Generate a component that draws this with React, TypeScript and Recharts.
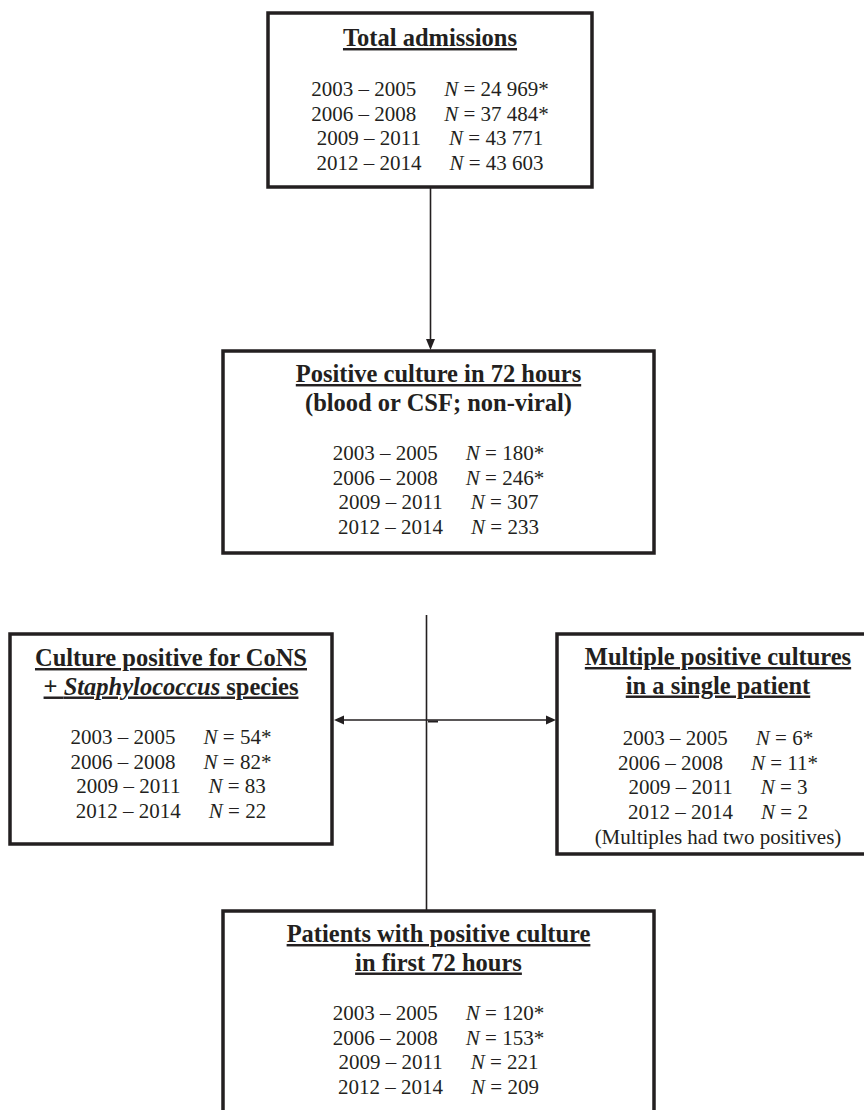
import React from 'react';
import { ScatterChart, Scatter, XAxis, YAxis, ReferenceArea, ReferenceLine } from 'recharts';

// ---------- data ----------
const periods = ['2003 – 2005', '2006 – 2008', '2009 – 2011', '2012 – 2014'];
const totalAdmissions = ['24 969*', '37 484*', '43 771', '43 603'];
const positiveCultures = ['180*', '246*', '307', '233'];
const consCultures = ['54*', '82*', '83', '22'];
const multipleCultures = ['6*', '11*', '3', '2'];
const patientsPositive = ['120*', '153*', '221', '209'];

const titleTotal = [[{ t: 'Total admissions' }]];
const titlePositive = [[{ t: 'Positive culture in 72 hours' }]];
const subPositive = '(blood or CSF; non-viral)';
const titleCons = [[{ t: 'Culture positive for CoNS' }], [{ t: '+ ' }, { t: 'Staphylococcus', i: true }, { t: ' species' }]];
const titleMultiple = [[{ t: 'Multiple positive cultures' }], [{ t: 'in a single patient' }]];
const noteMultiple = '(Multiples had two positives)';
const titlePatients = [[{ t: 'Patients with positive culture' }], [{ t: 'in first 72 hours' }]];

// ---------- layout ----------
const W = 864;
const H = 1110;
const INK = '#231f20';
const FONT = '"Liberation Serif", "Times New Roman", serif';
const ROW_STEP = 24.5;
const TITLE_STEP = 28.5;

const boxes = [
  { x1: 268, y1: 13, x2: 592, y2: 187, cx: 430, titleY: 46, rowsY: 96, title: titleTotal, values: totalAdmissions },
  { x1: 223, y1: 351, x2: 654, y2: 553, cx: 438.5, titleY: 382, rowsY: 460, title: titlePositive, sub: subPositive, values: positiveCultures },
  { x1: 10, y1: 634, x2: 332, y2: 844, cx: 171, titleY: 666, rowsY: 744, title: titleCons, values: consCultures },
  { x1: 557, y1: 634, x2: 879, y2: 854, cx: 718, titleY: 665, rowsY: 745, title: titleMultiple, values: multipleCultures, note: noteMultiple },
  { x1: 223, y1: 911, x2: 654, y2: 1113, cx: 438.5, titleY: 942, rowsY: 1020, title: titlePatients, values: patientsPositive },
];

const connectors = [
  [{ x: 430.5, y: 188 }, { x: 430.5, y: 342 }],
  [{ x: 426.5, y: 615 }, { x: 426.5, y: 910 }],
  [{ x: 342, y: 720 }, { x: 549, y: 720 }],
];
const tick = [{ x: 428, y: 721.5 }, { x: 438, y: 721.5 }];

const arrows = [
  { x: 430.5, y: 350, dir: 'down' },
  { x: 334, y: 720, dir: 'left' },
  { x: 556, y: 720, dir: 'right' },
];

// ---------- text points ----------
type Seg = { t: string; i?: boolean };
const textPoints: any[] = [];
boxes.forEach((b) => {
  let y = b.titleY;
  b.title.forEach((segs: Seg[]) => {
    textPoints.push({ x: b.cx, y, kind: 'title', segs });
    y += TITLE_STEP;
  });
  if (b.sub) {
    textPoints.push({ x: b.cx, y, kind: 'sub', text: b.sub });
  }
  b.values.forEach((v, i) => {
    textPoints.push({ x: b.cx, y: b.rowsY + i * ROW_STEP, kind: 'row', period: periods[i], value: v });
  });
  if (b.note) {
    textPoints.push({ x: b.cx, y: b.rowsY + b.values.length * ROW_STEP + 1, kind: 'note', text: b.note });
  }
});

const TextShape = (props: any) => {
  const { cx, cy, payload } = props;
  const common = {
    x: cx,
    y: cy,
    textAnchor: 'middle' as const,
    fontFamily: FONT,
    fill: INK,
    style: { whiteSpace: 'pre' as const },
  };
  if (payload.kind === 'title') {
    return (
      <text {...common} fontSize={24.5} fontWeight="bold" textDecoration="underline">
        {payload.segs.map((s: Seg, k: number) => (
          <tspan key={k} fontStyle={s.i ? 'italic' : 'normal'}>{s.t}</tspan>
        ))}
      </text>
    );
  }
  if (payload.kind === 'sub') {
    return (
      <text {...common} fontSize={24.5} fontWeight="bold">
        {payload.text}
      </text>
    );
  }
  if (payload.kind === 'note') {
    return (
      <text {...common} fontSize={21}>
        {payload.text}
      </text>
    );
  }
  return (
    <text {...common} fontSize={21}>
      <tspan>{payload.period}</tspan>
      <tspan dx={28} fontStyle="italic">N</tspan>
      <tspan>{' = ' + payload.value}</tspan>
    </text>
  );
};

const ArrowShape = (props: any) => {
  const { cx, cy, payload } = props;
  let pts = '';
  if (payload.dir === 'down') pts = `${cx},${cy} ${cx - 4.5},${cy - 11} ${cx + 4.5},${cy - 11}`;
  if (payload.dir === 'left') pts = `${cx},${cy} ${cx + 10},${cy - 4.5} ${cx + 10},${cy + 4.5}`;
  if (payload.dir === 'right') pts = `${cx},${cy} ${cx - 10},${cy - 4.5} ${cx - 10},${cy + 4.5}`;
  return <polygon points={pts} fill={INK} />;
};

export default function App() {
  return (
    <div style={{ position: 'absolute', left: 0, top: 0, width: W, height: H, background: '#fff' }}>
      <ScatterChart width={W} height={H} margin={{ top: 0, right: 0, bottom: 0, left: 0 }}>
        <XAxis type="number" dataKey="x" domain={[0, W]} hide allowDataOverflow />
        <YAxis type="number" dataKey="y" domain={[0, H]} reversed hide allowDataOverflow />
        {boxes.map((b, i) => (
          <ReferenceArea
            key={'b' + i}
            x1={b.x1}
            x2={b.x2}
            y1={b.y1}
            y2={b.y2}
            fill="#ffffff"
            fillOpacity={1}
            stroke={INK}
            strokeWidth={3.5}
            ifOverflow="visible"
          />
        ))}
        {connectors.map((seg, i) => (
          <ReferenceLine key={'l' + i} segment={seg} stroke={INK} strokeWidth={1.6} ifOverflow="visible" />
        ))}
        <ReferenceLine segment={tick} stroke={INK} strokeWidth={2} ifOverflow="visible" />
        <Scatter data={arrows} shape={ArrowShape} isAnimationActive={false} />
        <Scatter data={textPoints} shape={TextShape} isAnimationActive={false} />
      </ScatterChart>
    </div>
  );
}
